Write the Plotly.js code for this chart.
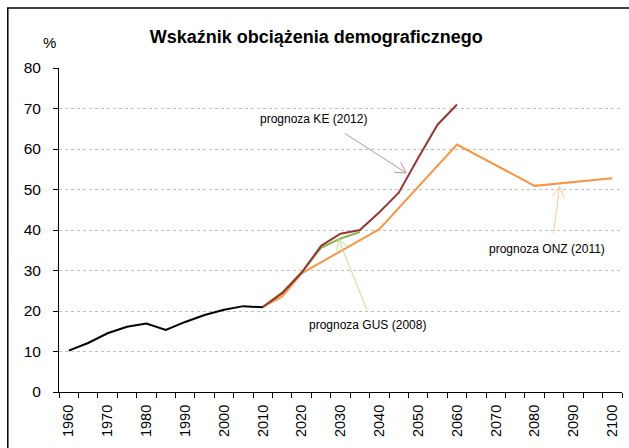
<!DOCTYPE html>
<html>
<head>
<meta charset="utf-8">
<script src="https://cdn.plot.ly/plotly-3.0.1.min.js"></script>
<style>
  html, body { margin: 0; padding: 0; background: #fff; }
  #chart { width: 629px; height: 448px; }
</style>
</head>
<body>
<div id="chart"></div>
<script>
// ---- data ----
const histYears = [1960, 1965, 1970, 1975, 1980, 1985, 1990, 1995, 2000, 2005, 2010];
const histValues = [10.2, 12.1, 14.5, 16.1, 16.9, 15.3, 17.3, 19.0, 20.3, 21.2, 20.9];

const keYears = [2010, 2015, 2020, 2025, 2030, 2035, 2040, 2045, 2050, 2055, 2060];
const keValues = [21.0, 24.4, 29.5, 36.1, 39.1, 40.0, 44.4, 49.2, 57.8, 66.0, 71.0];

const gusYears = [2010, 2015, 2020, 2025, 2030, 2035];
const gusValues = [21.0, 24.6, 29.5, 35.6, 37.9, 39.5];

const onzYears = [2010, 2015, 2020, 2040, 2060, 2080, 2100];
const onzValues = [21.0, 23.6, 29.3, 40.2, 61.1, 50.9, 52.8];

const labelYears = [1960, 1970, 1980, 1990, 2000, 2010, 2020, 2030, 2040, 2050, 2060, 2070, 2080, 2090, 2100];
const yTicks = [0, 10, 20, 30, 40, 50, 60, 70, 80];

const titleText = 'Wskaźnik obciążenia demograficznego';
const unitText = '%';
const keLabel = 'prognoza KE (2012)';
const gusLabel = 'prognoza GUS (2008)';
const onzLabel = 'prognoza ONZ (2011)';

// ---- geometry ----
const W = 629, H = 448;
const M = { l: 58.7, r: 7.3, t: 67.7, b: 55.7 };
const PW = W - M.l - M.r, PH = H - M.t - M.b;
const xRange = [1957.5, 2102.5];
const yRange = [0, 80];

// category boundaries for tick marks (every 5 years)
const boundaryTicks = [];
for (let v = xRange[0]; v <= xRange[1] + 1e-9; v += 5) boundaryTicks.push(v);

const FONT = '"Liberation Sans", Arial, sans-serif';

// pixel <-> data helpers (for arrowheads)
const px = x => M.l + (x - xRange[0]) / (xRange[1] - xRange[0]) * PW;
const py = y => M.t + PH - (y - yRange[0]) / (yRange[1] - yRange[0]) * PH;
const dx = p => xRange[0] + (p - M.l) / PW * (xRange[1] - xRange[0]);
const dy = p => yRange[0] + (M.t + PH - p) / PH * (yRange[1] - yRange[0]);

function arrowShapes(tail, tip, color, len, angDeg) {
  const tx = px(tail[0]), ty = py(tail[1]);
  const hx = px(tip[0]), hy = py(tip[1]);
  const a = Math.atan2(ty - hy, tx - hx);
  const d = angDeg * Math.PI / 180;
  const a1 = [hx + len * Math.cos(a + d), hy + len * Math.sin(a + d)];
  const a2 = [hx + len * Math.cos(a - d), hy + len * Math.sin(a - d)];
  const path = 'M' + tail[0] + ',' + tail[1] + ' L' + tip[0] + ',' + tip[1] +
    ' M' + dx(a1[0]) + ',' + dy(a1[1]) + ' L' + tip[0] + ',' + tip[1] +
    ' L' + dx(a2[0]) + ',' + dy(a2[1]);
  return { type: 'path', xref: 'x', yref: 'y', path: path,
           line: { color: color, width: 1 }, layer: 'above' };
}

const traces = [
  { x: onzYears, y: onzValues, mode: 'lines', line: { color: '#F79646', width: 2 } },
  { x: gusYears, y: gusValues, mode: 'lines', line: { color: '#8DB450', width: 2 } },
  { x: keYears, y: keValues, mode: 'lines', line: { color: '#953735', width: 2 } },
  { x: histYears, y: histValues, mode: 'lines', line: { color: '#000000', width: 2 } }
];

const shapes = [
  arrowShapes([2031.2, 63.8], [2046.9, 54.1], '#C99393', 12, 30),
  arrowShapes([2036.8, 20.3], [2029.5, 37.7], '#C4DA9E', 12, 30),
  arrowShapes([2084.9, 39.2], [2086.4, 50.7], '#FAC8A0', 12, 30),
  // outer frame
  { type: 'rect', xref: 'paper', yref: 'paper',
    x0: (7.5 - M.l) / PW, x1: (660 - M.l) / PW,
    y0: (M.t + PH - 470) / PH, y1: (M.t + PH - 7.5) / PH,
    line: { color: '#000', width: 1.5 }, fillcolor: 'rgba(0,0,0,0)', layer: 'above' }
];

const annotations = [
  { text: unitText, xref: 'paper', yref: 'paper', x: (49 - M.l) / PW, y: (M.t + PH - 42) / PH,
    xanchor: 'center', yanchor: 'middle', showarrow: false, font: { family: FONT, size: 15, color: '#000' } },
  { text: keLabel, xref: 'x', yref: 'y', x: 2023.0, y: 67.4, xanchor: 'center', yanchor: 'middle',
    showarrow: false, font: { family: FONT, size: 12, color: '#000' } },
  { text: gusLabel, xref: 'x', yref: 'y', x: 2037.0, y: 16.6, xanchor: 'center', yanchor: 'middle',
    showarrow: false, font: { family: FONT, size: 12, color: '#000' } },
  { text: onzLabel, xref: 'x', yref: 'y', x: 2083.1, y: 35.2, xanchor: 'center', yanchor: 'middle',
    showarrow: false, font: { family: FONT, size: 12, color: '#000' } }
];

const layout = {
  width: W, height: H,
  margin: M,
  paper_bgcolor: '#fff', plot_bgcolor: '#fff',
  showlegend: false,
  hovermode: false,
  title: { text: titleText, xref: 'paper', x: (316 - M.l) / PW, xanchor: 'center',
           yref: 'container', y: 1 - 36.7 / H, yanchor: 'middle',
           font: { family: FONT, size: 18, color: '#000', weight: 'bold' } },
  xaxis: {
    type: 'linear', range: xRange, fixedrange: true,
    tickmode: 'array', tickvals: labelYears, ticktext: labelYears.map(String),
    tickangle: -90, ticks: '', showgrid: false, zeroline: false,
    showline: true, linecolor: '#000', linewidth: 1,
    tickfont: { family: FONT, size: 14.5, color: '#000' },
    ticklabelstandoff: 6,
    minor: { tickmode: 'array', tickvals: boundaryTicks, ticks: 'outside', ticklen: 5,
             tickcolor: '#000', tickwidth: 1, showgrid: false }
  },
  yaxis: {
    range: yRange, fixedrange: true,
    tickmode: 'array', tickvals: yTicks, ticktext: yTicks.map(String),
    ticks: 'outside', ticklen: 5, tickcolor: '#000', tickwidth: 1,
    showline: true, linecolor: '#000', linewidth: 1, zeroline: false,
    showgrid: true, gridcolor: '#BFBFBF', gridwidth: 1, griddash: 'dot',
    tickfont: { family: FONT, size: 15.5, color: '#000' },
    ticklabelstandoff: 9
  },
  shapes: shapes,
  annotations: annotations
};

Plotly.newPlot('chart', traces, layout, { displayModeBar: false, staticPlot: true });
</script>
</body>
</html>
